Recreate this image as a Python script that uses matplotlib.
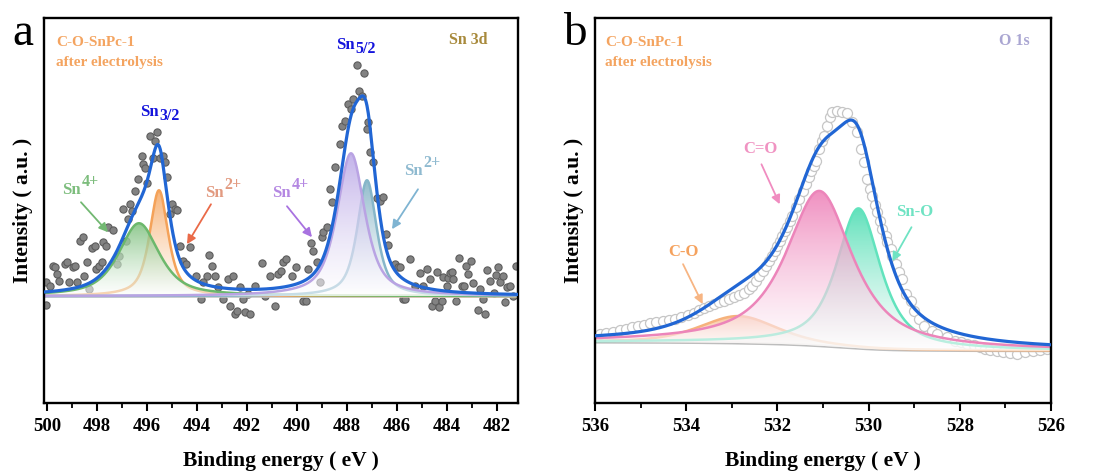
import numpy as np
import matplotlib.pyplot as plt
import matplotlib.colors as mcolors
from matplotlib.ticker import MultipleLocator

plt.rcParams['font.family'] = ['Liberation Serif', 'DejaVu Serif']

# ---------------- Sn 3d (panel a) ----------------
sn_be = [500.04, 500.02, 499.88, 499.76, 499.68, 499.60, 499.52, 499.28, 499.20, 499.12,
         498.96, 498.88, 498.80, 498.68, 498.56, 498.52, 498.40, 498.32, 498.20, 498.08,
         498.04, 497.92, 497.80, 497.76, 497.64, 497.56, 497.36, 497.20, 497.12, 496.96,
         496.84, 496.76, 496.68, 496.60, 496.48, 496.36, 496.20, 496.16, 496.08, 496.00,
         495.88, 495.76, 495.68, 495.60, 495.48, 495.36, 495.28, 495.20, 495.08, 495.00,
         494.88, 494.80, 494.68, 494.56, 494.44, 494.28, 494.04, 493.84, 493.76, 493.60,
         493.52, 493.40, 493.28, 493.16, 492.96, 492.76, 492.68, 492.56, 492.48, 492.40,
         492.28, 492.16, 492.08, 491.96, 491.88, 491.68, 491.40, 491.28, 491.08, 490.88,
         490.76, 490.64, 490.56, 490.44, 490.20, 490.04, 489.76, 489.64, 489.56, 489.44,
         489.36, 489.20, 489.08, 489.00, 488.96, 488.80, 488.68, 488.60, 488.48, 488.28,
         488.20, 488.08, 487.96, 487.84, 487.76, 487.60, 487.52, 487.40, 487.32, 487.20,
         487.16, 487.08, 486.96, 486.80, 486.68, 486.56, 486.44, 486.36, 486.08, 485.96,
         485.88, 485.76, 485.68, 485.48, 485.28, 485.08, 484.96, 484.80, 484.68, 484.60,
         484.48, 484.40, 484.32, 484.20, 484.16, 484.00, 483.96, 483.88, 483.80, 483.76,
         483.64, 483.52, 483.40, 483.32, 483.24, 483.16, 483.04, 482.96, 482.76, 482.68,
         482.56, 482.48, 482.40, 482.28, 482.12, 482.04, 481.96, 481.88, 481.76, 481.68,
         481.60, 481.48, 481.36, 481.24]
sn_counts = [14, -9, 10, 30, 29, 22, 15, 32, 34, 14,
             29, 30, 14, 55, 59, 20, 34, 7, 48, 50,
             27, 30, 34, 54, 50, 69, 66, 32, 40, 87,
             55, 77, 92, 85, 105, 117, 140, 132, 128, 113,
             160, 138, 155, 164, 138, 140, 134, 119, 82, 92,
             87, 86, 50, 35, 32, 49, 20, -3, 14, 20,
             41, 30, 20, 9, -3, 17, -10, 20, -18, -15,
             9, -3, -16, 2, -18, 10, 33, 0, 20, -10,
             22, 25, 34, 37, 20, 29, -5, -5, 27, 53,
             45, 34, 14, 59, 64, 69, 107, 94, 129, 152,
             170, 175, 192, 187, 197, 231, 205, 200, 223, 167,
             174, 144, 134, 98, 95, 99, 62, 51, 32, 29,
             29, -3, -3, 37, 10, 23, 10, 27, 17, -10,
             -5, 24, -11, -5, 19, 10, 18, 23, 24, 17,
             -5, 38, 10, 10, 30, 22, 35, 13, -14, 7,
             -3, -18, 26, 15, 3, 21, 29, 14, 20, -6,
             9, 10, 0, 30]

# fitted components, in drawing order: Sn2+ 3d3/2, Sn4+ 3d3/2, Sn2+ 3d5/2, Sn4+ 3d5/2
sn_comp_center = [495.52, 496.32, 487.20, 487.84]
sn_comp_height = [106, 73, 116, 143]
sn_comp_fwhm = [0.88, 1.92, 0.92, 1.32]
sn_comp_eta = [0.7, 0.7, 0.7, 0.7]
sn_comp_line = ['#f4a259', '#6cb86c', '#86b6c9', '#b9a3e3']
sn_comp_fill = ['#f6a55e', '#7cc07c', '#7fb0c3', '#b9a6e6']
sn_background = 0.0

# ---------------- O 1s (panel b) ----------------
o_be = [535.89, 535.76, 535.60, 535.45, 535.32, 535.19, 535.05, 534.92, 534.79, 534.66,
        534.50, 534.37, 534.24, 534.11, 533.97, 533.84, 533.73, 533.62, 533.51, 533.40,
        533.29, 533.18, 533.07, 532.96, 532.85, 532.74, 532.63, 532.56, 532.48, 532.41,
        532.32, 532.26, 532.19, 532.12, 532.06, 532.01, 531.95, 531.90, 531.84, 531.79,
        531.73, 531.68, 531.59, 531.53, 531.44, 531.37, 531.31, 531.26, 531.20, 531.15,
        531.09, 531.02, 530.98, 530.91, 530.85, 530.80, 530.69, 530.58, 530.47, 530.36,
        530.25, 530.16, 530.10, 530.03, 529.96, 529.92, 529.85, 529.81, 529.74, 529.70,
        529.63, 529.59, 529.52, 529.48, 529.39, 529.33, 529.26, 529.17, 529.06, 529.00,
        528.89, 528.78, 528.62, 528.49, 528.29, 528.11, 527.98, 527.85, 527.70, 527.56,
        527.45, 527.34, 527.19, 527.06, 526.90, 526.75, 526.57, 526.40, 526.24, 526.09]
o_counts = [69, 70, 71, 73, 74, 76, 77, 78, 80, 81,
            82, 83, 84, 86, 88, 90, 93, 95, 97, 99,
            101, 102, 104, 106, 108, 110, 114, 117, 122, 127,
            132, 137, 142, 147, 152, 157, 162, 167, 172, 176,
            182, 187, 196, 204, 212, 219, 226, 232, 237, 242,
            254, 262, 267, 277, 286, 291, 292, 291, 290, 281,
            271, 254, 241, 224, 214, 207, 198, 191, 182, 174,
            167, 161, 154, 147, 139, 131, 124, 109, 102, 92,
            84, 77, 72, 69, 66, 62, 61, 59, 58, 56,
            54, 53, 52, 51, 50, 49, 51, 52, 53, 54]

# C-O, Sn-O, C=O
o_comp_center = [532.85, 530.22, 531.08]
o_comp_height = [27, 140, 155]
o_comp_fwhm = [2.0, 1.15, 1.75]
o_comp_eta = [0.5, 0.75, 0.85]
o_comp_line = ['#f6b27c', '#62e3bd', '#ec85ba']
o_comp_fill = ['#f8bb8a', '#45dcaf', '#ee7db6']
o_bg_low = 52.3     # background at the low binding energy side
o_bg_high = 61.0    # background at the high binding energy side

env_color = '#2166d4'


def pvoigt(e, c, h, fwhm, eta):
    x = (e - c) / (fwhm / 2.0)
    return h * (eta / (1 + x ** 2) + (1 - eta) * np.exp(-np.log(2) * x ** 2))


def gradient_fill(ax, x, lo, hi, color, zorder):
    poly = ax.fill_between(x, lo, hi, facecolor='none', edgecolor='none')
    path = poly.get_paths()[0]
    n = 200
    frac = np.linspace(1, 0, n)[:, None, None]
    rgb = np.array(mcolors.to_rgb(color))[None, None, :]
    img = np.ones((n, 1, 4))
    img[..., :3] = rgb * frac + (1 - frac) * 1.0
    img[..., 3] = (0.85 * frac + 0.55 * (1 - frac))[..., 0]
    im = ax.imshow(img, extent=[x.min(), x.max(), lo.min(), hi.max()],
                   aspect='auto', origin='upper', zorder=zorder,
                   interpolation='bilinear')
    im.set_clip_path(path, transform=ax.transData)


def sn_label(ax, x, y, script, color, sub=False, size=12):
    t = ax.text(x, y, 'Sn', color=color, fontsize=size, fontweight='bold',
                ha='left', va='baseline', zorder=10)
    dy = 0.5 if sub else 8.5
    ax.annotate(script, xy=(1, 0), xycoords=t, xytext=(0.8, dy),
                textcoords='offset points', color=color, fontsize=size - 0.5,
                fontweight='bold', ha='left', va='baseline', zorder=10)


def arrow(ax, tail, head, color):
    ax.annotate('', xy=head, xytext=tail,
                arrowprops=dict(arrowstyle='-|>', color=color, lw=1.3,
                                mutation_scale=13, shrinkA=0, shrinkB=0),
                zorder=10)


def style_axes(ax, xlim, ylim, major):
    ax.set_xlim(*xlim)
    ax.set_ylim(*ylim)
    ax.set_yticks([])
    ax.xaxis.set_major_locator(MultipleLocator(major))
    ax.xaxis.set_minor_locator(MultipleLocator(major / 2))
    ax.tick_params(axis='x', which='major', direction='out', length=6,
                   width=1.5, labelsize=13.5, pad=5)
    ax.tick_params(axis='x', which='minor', direction='out', length=3.5,
                   width=1.3)
    for lab in ax.get_xticklabels():
        lab.set_fontweight('bold')
    for s in ax.spines.values():
        s.set_linewidth(1.7)
    ax.set_xlabel('Binding energy ( eV )', fontsize=15.5, fontweight='bold',
                  labelpad=11)
    ax.set_ylabel('Intensity ( a.u. )', fontsize=15.5, fontweight='bold',
                  labelpad=8)


fig = plt.figure(figsize=(10.93, 4.75), dpi=100)
ax1 = fig.add_axes([0.0407, 0.1516, 0.4332, 0.8095])
ax2 = fig.add_axes([0.5444, 0.1516, 0.4172, 0.8095])

# ---- panel a ----
e1 = np.linspace(481.0, 500.3, 1200)
ax1.scatter(sn_be, sn_counts, s=27, facecolor='#828282', edgecolor='#5c5c5c',
            linewidth=0.8, zorder=1)
ax1.axhline(sn_background, color='#c4c4c4', lw=2.6, zorder=1.5)
env1 = np.full_like(e1, sn_background)
for i in range(len(sn_comp_center)):
    comp = pvoigt(e1, sn_comp_center[i], sn_comp_height[i],
                  sn_comp_fwhm[i], sn_comp_eta[i])
    env1 += comp
    base = np.full_like(e1, sn_background)
    gradient_fill(ax1, e1, base, base + comp, sn_comp_fill[i], 2 + i * 0.1)
    ax1.plot(e1, base + comp, color=sn_comp_line[i], lw=1.8, zorder=2.05 + i * 0.1)
ax1.plot(e1, env1, color=env_color, lw=2.3, zorder=3)
style_axes(ax1, (500.10, 481.16), (-107, 278), 2)

ax1.text(0.024, 0.928, 'C-O-SnPc-1', transform=ax1.transAxes, color='#f4a460',
         fontsize=11, fontweight='bold')
ax1.text(0.024, 0.876, 'after electrolysis', transform=ax1.transAxes,
         color='#f4a460', fontsize=11, fontweight='bold')
ax1.text(0.935, 0.934, 'Sn 3d', transform=ax1.transAxes, color='#a88a3c',
         fontsize=11.5, fontweight='bold', ha='right')
sn_label(ax1, 496.28, 180, '3/2', '#1414dc', sub=True)
sn_label(ax1, 488.44, 247, '5/2', '#1414dc', sub=True)
sn_label(ax1, 499.40, 102, '4+', '#7dbd7d')
arrow(ax1, (498.64, 94), (497.56, 64), '#72b872')
sn_label(ax1, 493.68, 99, '2+', '#e29a80')
arrow(ax1, (493.44, 92), (494.40, 52), '#ea6a48')
sn_label(ax1, 490.99, 99, '4+', '#b487e2')
arrow(ax1, (490.40, 90), (489.40, 59), '#a872e0')
sn_label(ax1, 485.72, 121, '2+', '#8fbad0')
arrow(ax1, (485.16, 107), (486.20, 67), '#7fb4d2')

# ---- panel b ----
e2 = np.linspace(525.9, 536.1, 1200)
comps2 = [pvoigt(e2, o_comp_center[i], o_comp_height[i], o_comp_fwhm[i],
                 o_comp_eta[i]) for i in range(len(o_comp_center))]
total2 = np.sum(comps2, axis=0)
cum = np.cumsum(total2)
bg2 = o_bg_low + (o_bg_high - o_bg_low) * cum / cum[-1]
ax2.scatter(o_be, o_counts, s=52, facecolor='white', edgecolor='#c6c6c6',
            linewidth=0.9, zorder=1)
ax2.plot(e2, bg2, color='#bdbdbd', lw=2.2, zorder=1.5)
for i, comp in enumerate(comps2):
    gradient_fill(ax2, e2, bg2, bg2 + comp, o_comp_fill[i], 2 + i * 0.1)
    ax2.plot(e2, bg2 + comp, color=o_comp_line[i], lw=1.8, zorder=2.05 + i * 0.1)
ax2.plot(e2, bg2 + total2, color=env_color, lw=2.3, zorder=3)
style_axes(ax2, (536, 526), (0, 385), 2)

ax2.text(0.022, 0.928, 'C-O-SnPc-1', transform=ax2.transAxes, color='#f4a460',
         fontsize=11, fontweight='bold')
ax2.text(0.022, 0.876, 'after electrolysis', transform=ax2.transAxes,
         color='#f4a460', fontsize=11, fontweight='bold')
ax2.text(0.954, 0.931, 'O 1s', transform=ax2.transAxes, color='#aaa6d2',
         fontsize=11.5, fontweight='bold', ha='right')
ax2.text(532.76, 250, 'C=O', color='#f093c2', fontsize=12, fontweight='bold')
arrow(ax2, (532.35, 239), (531.95, 199), '#f08cc0')
ax2.text(529.39, 187, 'Sn-O', color='#6fe3c3', fontsize=12, fontweight='bold')
arrow(ax2, (529.06, 176), (529.48, 142), '#6fe3c3')
ax2.text(534.40, 147, 'C-O', color='#f5a25e', fontsize=12, fontweight='bold')
arrow(ax2, (534.07, 139), (533.64, 99), '#f7b583')

fig.text(12 / 1093, 1 - 45 / 475, 'a', fontsize=34, va='baseline')
fig.text(563 / 1093, 1 - 45 / 475, 'b', fontsize=34, va='baseline')

fig.savefig('out.png', dpi=100)
